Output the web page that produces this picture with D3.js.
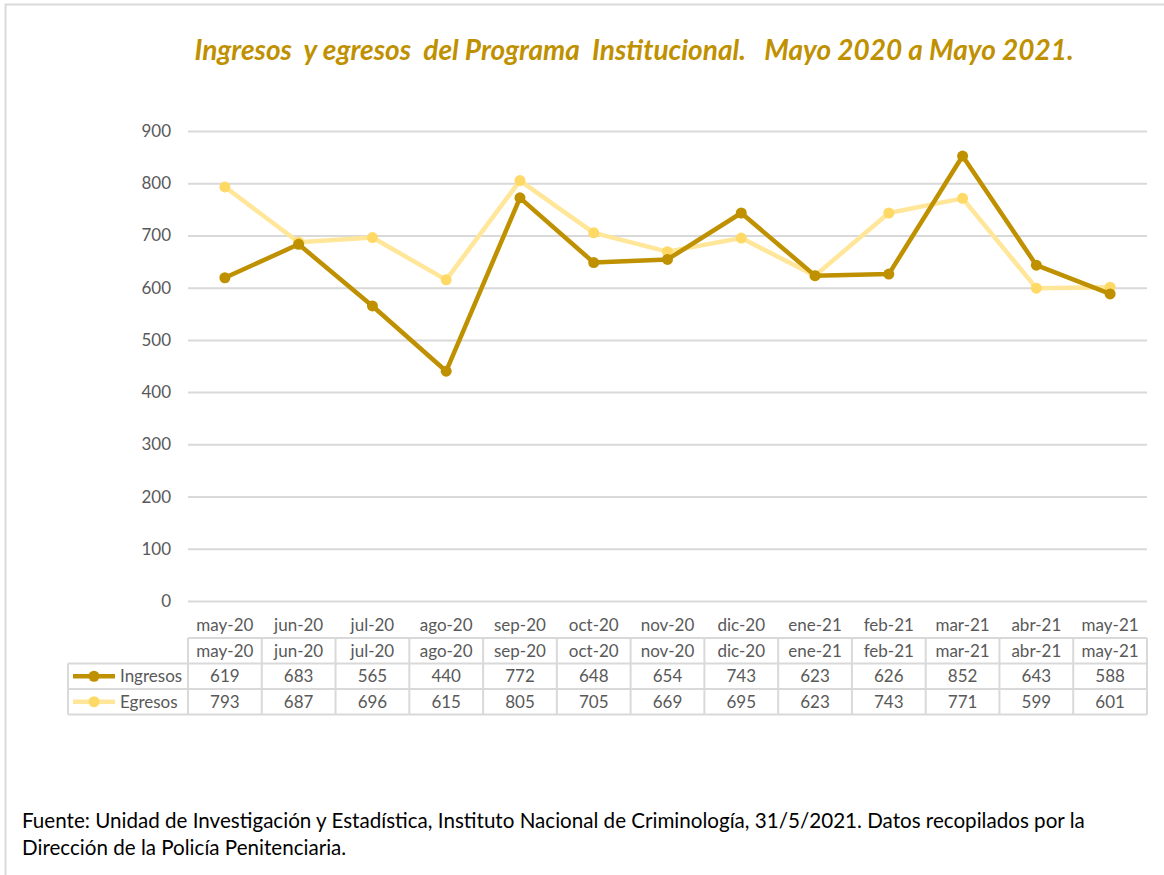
<!DOCTYPE html>
<html lang="es">
<head>
  <meta charset="UTF-8">
  <title>Ingresos y egresos</title>
  <script src="https://d3js.org/d3.v7.min.js"></script>
  <style>
    body { margin: 0; background: #fff; }
    text { font-family: Lato, "Open Sans", sans-serif; white-space: pre; }
  </style>
</head>
<body>
<svg id="chart" width="1164" height="875"></svg>
<script>
  // data
  const months = ["may-20","jun-20","jul-20","ago-20","sep-20","oct-20","nov-20","dic-20","ene-21","feb-21","mar-21","abr-21","may-21"];
  const ingresos = [619, 683, 565, 440, 772, 648, 654, 743, 623, 626, 852, 643, 588];
  const egresos  = [793, 687, 696, 615, 805, 705, 669, 695, 623, 743, 771, 599, 601];
  const yTicks = [0, 100, 200, 300, 400, 500, 600, 700, 800, 900];

  const series = [
    { name: "Ingresos", values: ingresos, line: "#bf9000", dot: "#bf9000" },
    { name: "Egresos",  values: egresos,  line: "#ffe699", dot: "#ffd966" }
  ];

  const svg = d3.select("#chart");
  const grid = "#d9d9d9";

  // chart frame
  svg.append("rect")
    .attr("x", 5.5).attr("y", 4.5)
    .attr("width", 1200).attr("height", 900)
    .attr("fill", "none").attr("stroke", grid).attr("stroke-width", 2);

  svg.append("text")
    .attr("x", 634).attr("y", 60)
    .attr("text-anchor", "middle")
    .attr("fill", "#bf9000")
    .style("font-size", "28px").style("font-style", "italic").style("font-weight", "bold")
    .text("Ingresos  y egresos  del Programa  Institucional.   Mayo 2020 a Mayo 2021.");

  const plotL = 188, plotR = 1147, plotT = 131, plotB = 601;

  const x = d3.scaleBand().domain(months).range([plotL, plotR]);
  const y = d3.scaleLinear().domain([0, 900]).range([plotB, plotT]);

  const fs = "17px";

  // gridlines
  svg.append("g").selectAll("line").data(yTicks).join("line")
    .attr("x1", plotL).attr("x2", plotR)
    .attr("y1", d => y(d) + 0.5).attr("y2", d => y(d) + 0.5)
    .attr("stroke", grid).attr("stroke-width", 2);

  svg.append("g").selectAll("text").data(yTicks).join("text")
    .attr("x", 171).attr("y", d => y(d) + 6)
    .attr("text-anchor", "end")
    .attr("fill", "#595959")
    .style("font-size", fs)
    .text(d => d);

  const line = d3.line()
    .x((d, i) => x(months[i]) + x.bandwidth() / 2)
    .y(d => y(d));

  // Egresos underneath, Ingresos on top
  [series[1], series[0]].forEach(s => {
    svg.append("path")
      .datum(s.values)
      .attr("fill", "none")
      .attr("stroke", s.line)
      .attr("stroke-width", 4.5)
      .attr("stroke-linejoin", "round")
      .attr("d", line);
    svg.append("g").selectAll("circle").data(s.values).join("circle")
      .attr("cx", (d, i) => x(months[i]) + x.bandwidth() / 2)
      .attr("cy", d => y(d))
      .attr("r", 5.5)
      .attr("fill", s.dot);
  });

  // data table
  const rowH = 25.5;
  const tblTop = 638;
  const legLeft = 68;
  const tbl = svg.append("g");

  // header row without borders
  tbl.selectAll("text.h0").data(months).join("text")
    .attr("class", "h0")
    .attr("x", d => x(d) + x.bandwidth() / 2).attr("y", 631)
    .attr("text-anchor", "middle").attr("fill", "#595959")
    .style("font-size", fs).text(d => d);

  // second header row with borders
  tbl.selectAll("text.h1").data(months).join("text")
    .attr("class", "h1")
    .attr("x", d => x(d) + x.bandwidth() / 2).attr("y", tblTop + rowH / 2 + 6)
    .attr("text-anchor", "middle").attr("fill", "#595959")
    .style("font-size", fs).text(d => d);

  series.forEach((s, r) => {
    const rowY = tblTop + rowH * (r + 1);
    tbl.selectAll("text.v" + r).data(s.values).join("text")
      .attr("class", "v" + r)
      .attr("x", (d, i) => x(months[i]) + x.bandwidth() / 2).attr("y", rowY + rowH / 2 + 6)
      .attr("text-anchor", "middle").attr("fill", "#595959")
      .style("font-size", fs).text(d => d);
    // legend key
    tbl.append("line")
      .attr("x1", 73).attr("x2", 115)
      .attr("y1", rowY + rowH / 2).attr("y2", rowY + rowH / 2)
      .attr("stroke", s.line).attr("stroke-width", 4.5);
    tbl.append("circle")
      .attr("cx", 94).attr("cy", rowY + rowH / 2).attr("r", 5.5).attr("fill", s.dot);
    tbl.append("text")
      .attr("x", 120).attr("y", rowY + rowH / 2 + 6)
      .attr("fill", "#595959").style("font-size", fs).text(s.name);
  });

  const tblBottom = tblTop + rowH * 3;
  const borders = tbl.append("g").attr("stroke", grid).attr("stroke-width", 2);
  // horizontal table lines
  borders.append("line").attr("x1", plotL).attr("x2", plotR).attr("y1", tblTop).attr("y2", tblTop);
  [1, 2, 3].forEach(k => {
    borders.append("line").attr("x1", legLeft).attr("x2", plotR)
      .attr("y1", tblTop + rowH * k).attr("y2", tblTop + rowH * k);
  });
  // vertical table lines
  months.forEach(m => {
    borders.append("line").attr("x1", x(m)).attr("x2", x(m)).attr("y1", tblTop).attr("y2", tblBottom);
  });
  borders.append("line").attr("x1", plotR).attr("x2", plotR).attr("y1", tblTop).attr("y2", tblBottom);
  borders.append("line").attr("x1", legLeft).attr("x2", legLeft).attr("y1", tblTop + rowH).attr("y2", tblBottom);

  // source note
  const note = svg.append("text").attr("fill", "#000").style("font-size", "20.6px");
  note.append("tspan").attr("x", 22).attr("y", 828)
    .text("Fuente: Unidad de Investigación y Estadística, Instituto Nacional de Criminología, 31/5/2021. Datos recopilados por la");
  note.append("tspan").attr("x", 22).attr("y", 855)
    .text("Dirección de la Policía Penitenciaria.");
</script>
</body>
</html>
